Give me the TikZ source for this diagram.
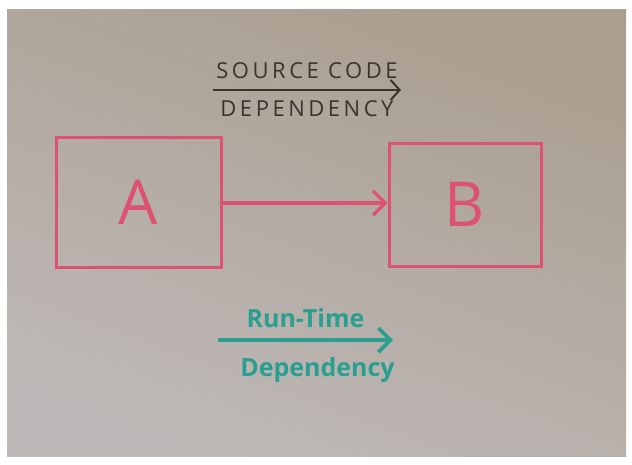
\documentclass[tikz,border=0pt]{standalone}
\usepackage{fontspec}
\setmainfont{Open Sans}
\newfontfamily\spacedfont[LetterSpace=16]{Open Sans}
\usetikzlibrary{arrows.meta,positioning}
\definecolor{boardtop}{HTML}{AA9E8F}
\definecolor{boardbot}{HTML}{BEB9B8}
\definecolor{markerred}{HTML}{DC5270}
\definecolor{markerteal}{HTML}{2A9E90}
\definecolor{markerblack}{HTML}{3A342E}
\tikzset{boardbox/.style={draw=markerred,line width=3pt,rectangle,text=markerred,
        font=\fontsize{62}{62}\selectfont},
    blackline/.style={draw=markerblack,line width=2pt,-{Straight Barb[length=9pt,width=20pt]}},
    redline/.style={draw=markerred,line width=3.2pt,-{Straight Barb[length=12pt,width=24pt]}},
    tealline/.style={draw=markerteal,line width=3.6pt,-{Straight Barb[length=12pt,width=24pt]}},
    capslabel/.style={text=markerblack,font=\spacedfont\fontsize{22}{22}\selectfont,inner sep=2pt},
    teallabel/.style={text=markerteal,font=\fontsize{25}{25}\selectfont\bfseries,inner sep=2pt}
}
\begin{document}
\begin{tikzpicture}[x=1pt,y=-1pt]

\useasboundingbox (0,0) rectangle (632,464);
\fill [white] (0,0) rectangle (632,464);
\shade [top color=boardtop,bottom color=boardbot,shading angle=-20] (7,9) rectangle (626,456);

\node (A) [boardbox,minimum width=165pt,minimum height=130pt] at (138.5,202) {A};
\node (B) [boardbox,minimum width=152pt,minimum height=123pt] at (465,204.5) {B};

\draw [redline] (A.east |- 0,203) -- (B.west |- 0,203);

\coordinate (sc 1) at (213,90);
\coordinate (sc 2) at (401,90);
\draw [blackline] (sc 1) -- node (sourcecode) [capslabel,above=8pt] {SOURCE CODE}
    node (scdep) [capslabel,below=8pt] {DEPENDENCY} (sc 2);

\coordinate (rt 1) at (218,340);
\coordinate (rt 2) at (393,340);
\draw [tealline] (rt 1) -- node (runtime) [teallabel,above=8pt] {Run-Time}
    node (rtdep) [teallabel,below=14pt,xshift=12pt] {Dependency} (rt 2);

\end{tikzpicture}
\end{document}
